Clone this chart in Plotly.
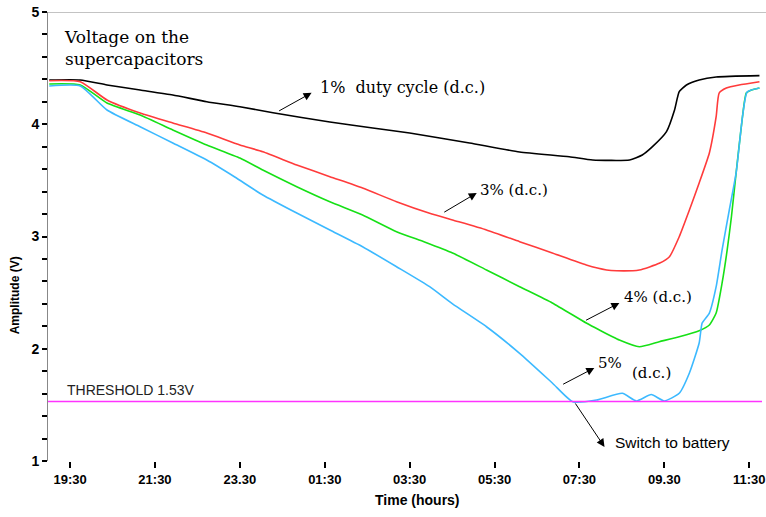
import plotly.graph_objects as go

# Time in hours elapsed since 19:30, voltage in V
black_t = [-0.49, 0.24, 0.87, 1.65, 2.42, 3.22, 4.00, 4.78, 6.12, 7.13, 8.00, 9.41, 10.59, 11.76, 12.31, 13.18, 13.48, 13.72, 14.05, 14.24, 14.35, 14.52, 14.82, 15.22, 16.24]
black_v = [4.394, 4.394, 4.350, 4.305, 4.261, 4.201, 4.156, 4.103, 4.020, 3.967, 3.922, 3.833, 3.753, 3.711, 3.682, 3.682, 3.726, 3.800, 3.934, 4.127, 4.290, 4.350, 4.394, 4.421, 4.433]

red_t = [-0.49, 0.24, 0.87, 1.65, 2.42, 3.22, 4.00, 4.54, 5.34, 6.12, 6.89, 7.69, 8.47, 9.01, 9.81, 10.59, 11.36, 12.16, 12.64, 12.87, 13.41, 13.88, 14.12, 14.35, 14.59, 14.82, 15.06, 15.22, 15.29, 15.46, 15.76, 16.24]
red_v = [4.388, 4.379, 4.216, 4.100, 4.011, 3.922, 3.815, 3.755, 3.637, 3.533, 3.432, 3.310, 3.207, 3.147, 3.058, 2.954, 2.853, 2.746, 2.702, 2.695, 2.702, 2.761, 2.820, 2.998, 3.236, 3.477, 3.744, 4.067, 4.278, 4.323, 4.350, 4.379]

green_t = [-0.49, 0.24, 0.87, 1.65, 2.42, 3.22, 4.00, 4.54, 5.34, 6.12, 6.89, 7.69, 8.35, 9.01, 9.81, 10.59, 11.36, 12.16, 12.47, 12.94, 13.41, 13.88, 14.35, 14.82, 15.06, 15.22, 15.36, 15.48, 15.58, 15.69, 15.84, 15.93, 16.05, 16.24]
green_v = [4.359, 4.350, 4.189, 4.082, 3.949, 3.815, 3.699, 3.592, 3.444, 3.310, 3.192, 3.043, 2.951, 2.853, 2.702, 2.553, 2.408, 2.229, 2.167, 2.078, 2.018, 2.063, 2.107, 2.161, 2.212, 2.318, 2.586, 2.880, 3.176, 3.566, 4.067, 4.278, 4.305, 4.323]

blue_t = [-0.49, 0.24, 0.87, 1.65, 2.42, 3.22, 3.88, 4.54, 5.34, 6.12, 6.89, 7.69, 8.47, 9.01, 9.81, 10.59, 11.36, 11.84, 12.40, 13.01, 13.34, 13.69, 14.00, 14.35, 14.59, 14.82, 14.89, 15.06, 15.22, 15.36, 15.53, 15.69, 15.84, 15.95, 16.24]
blue_v = [4.341, 4.341, 4.127, 3.978, 3.833, 3.681, 3.530, 3.370, 3.209, 3.058, 2.909, 2.731, 2.553, 2.400, 2.196, 1.959, 1.695, 1.528, 1.543, 1.603, 1.535, 1.592, 1.535, 1.603, 1.784, 2.051, 2.229, 2.318, 2.553, 2.880, 3.236, 3.566, 4.065, 4.287, 4.323]

threshold = 1.53

x_tick_vals = [0, 2, 4, 6, 8, 10, 12, 14, 16]
x_tick_text = ["19:30", "21:30", "23.30", "01:30", "03:30", "05:30", "07:30", "09.30", "11:30"]
y_tick_vals = [round(1 + 0.2 * i, 1) for i in range(21)]
y_tick_text = [str(int(v)) if abs(v - round(v)) < 1e-9 else "" for v in y_tick_vals]

fig = go.Figure()
for t, v, c in [(black_t, black_v, "#000000"), (red_t, red_v, "#ff3b3b"),
                (green_t, green_v, "#16e016"), (blue_t, blue_v, "#3cb9ff")]:
    fig.add_trace(go.Scatter(x=t, y=v, mode="lines", line=dict(color=c, width=1.6, shape="spline", smoothing=0.5),
                             showlegend=False))

fig.add_trace(go.Scatter(x=[-0.52, 16.3], y=[threshold, threshold], mode="lines",
                         line=dict(color="#ff33ff", width=1.3), showlegend=False))

serif = "DejaVu Serif, serif"
sans = "Liberation Sans, Arial, sans-serif"

anns = []
# arrows (head at x,y; tail at ax,ay)
for hx, hy, tx, ty in [(5.69, 4.28, 4.89, 4.112), (9.58, 3.388, 8.78, 3.209),
                       (12.94, 2.408, 12.12, 2.247), (12.35, 1.829, 11.58, 1.677),
                       (12.59, 1.125, 11.88, 1.526)]:
    anns.append(dict(x=hx, y=hy, ax=tx, ay=ty, xref="x", yref="y", axref="x", ayref="y",
                     text="", showarrow=True, arrowhead=2, arrowsize=1.6, arrowwidth=1, arrowcolor="#000"))

def txt(x, y, s, font, size, color="#000", xanchor="left"):
    anns.append(dict(x=x, y=y, xref="x", yref="y", text=s, showarrow=False, xanchor=xanchor,
                     yanchor="middle", font=dict(family=font, size=size, color=color), align="left"))

txt(5.84, 4.323, "1%&nbsp;&nbsp;duty cycle (d.c.)", serif, 16)
txt(9.6, 3.414, "3% (d.c.)", serif, 15)
txt(13.01, 2.461, "4% (d.c.)", serif, 15)
txt(12.40, 1.873, "5%", serif, 15)
txt(13.18, 1.784, "(d.c.)", serif, 15)
txt(12.78, 1.169, "Switch to battery", sans, 15.5)
txt(-0.12, 1.632, "THRESHOLD 1.53V", sans, 14, color="#222")
anns.append(dict(x=-0.19, y=4.68, xref="x", yref="y", text="Voltage on the<br>supercapacitors",
                 showarrow=False, xanchor="left", yanchor="middle", align="left",
                 font=dict(family=serif, size=17, color="#000")))
anns.append(dict(x=8.19, y=-0.064, xref="x", yref="paper", text="<b>Time (hours)</b>",
                 showarrow=False, xanchor="center", yanchor="top", font=dict(family=sans, size=14, color="#000")))
anns.append(dict(x=-0.047, y=0.37, xref="paper", yref="paper", text="<b>Amplitude (V)</b>", showarrow=False,
                 textangle=-90, xanchor="center", yanchor="middle", font=dict(family=sans, size=12, color="#000")))

fig.update_layout(
    width=766, height=517,
    margin=dict(l=48, r=4, t=12, b=56),
    paper_bgcolor="white", plot_bgcolor="white",
    annotations=anns,
    shapes=[dict(type="line", xref="paper", yref="y", x0=0, x1=1.01, y0=5, y1=5,
                 line=dict(color="#888", width=1))],
    xaxis=dict(range=[-0.52, 16.3], tickvals=x_tick_vals, ticktext=x_tick_text, ticks="outside",
               ticklen=6, tickwidth=1.5, tickcolor="#000", showgrid=False, zeroline=False, showline=False,
               automargin=False,
               tickfont=dict(family=sans, size=13, color="#000", weight="bold")),
    yaxis=dict(range=[1, 5], tickvals=y_tick_vals, ticktext=y_tick_text, ticks="outside",
               ticklen=5, tickwidth=2, tickcolor="#000", showgrid=False, zeroline=False, showline=True,
               linecolor="#888", linewidth=1, automargin=False,
               tickfont=dict(family=sans, size=14, color="#000", weight="bold")),
)

fig.write_html("out.html", config={"displayModeBar": False},
               post_script="document.body.style.margin='0';document.body.style.padding='0';")
